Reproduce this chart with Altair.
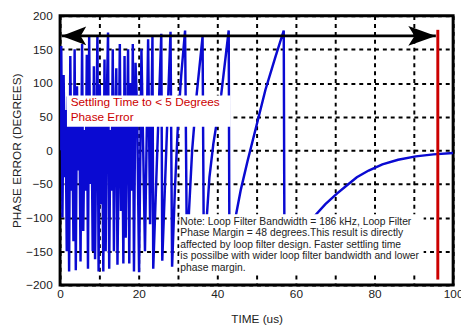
import altair as alt
import pandas as pd

# ---- blue trace: phase error vs time ----
time_us = [
    0.0, 0.3, 0.6, 0.9, 1.2, 1.4, 1.7, 2.0, 2.3, 2.6, 2.9, 3.1, 3.4, 3.7, 4.0, 4.3,
    4.6, 4.9, 5.2, 5.6, 5.9, 6.2, 6.5, 6.8, 7.1, 7.4, 7.7, 8.0, 8.3, 8.6, 8.9, 9.2,
    9.5, 9.8, 10.1, 10.4, 10.7, 11.0, 11.3, 11.6, 11.9, 12.2, 12.5, 12.8, 13.1, 13.4,
    13.7, 14.0, 14.3, 14.6, 14.9, 15.2, 15.5, 15.8, 16.1, 16.4, 16.7, 17.0, 17.3, 17.6,
    17.9, 18.2, 18.5, 18.8, 19.2, 19.6,
    20.1, 20.7, 21.6, 22.4, 22.9, 23.5, 23.7, 25.75, 26.0, 28.1, 28.5,
    29.2, 30.0, 30.8, 31.8, 32.3, 32.8, 33.6, 34.75, 36.25, 36.6, 37.2, 38.0, 39.0, 41.0,
    42.9, 43.1, 44.0, 44.75, 46.0, 47.7, 50.2, 52.25, 54.75, 56.9, 57.1, 59.0, 61.0, 63.0,
    65.0, 67.5, 70.5, 73.0, 75.5, 78.5, 82.0, 86.0, 90.5, 95.0, 100.0,
]
phase_deg = [
    0, 155, -100, 112, -40, 60, -150, 80, -180, 140, -60, 40, -135, 150, -178, 95,
    -30, 70, -165, 158, -120, 30, -60, 142, -176, 170, -50, 60, -150, 125, -162, 20,
    170, -180, 98, -80, 50, -180, 135, -150, 80, 175, -176, 30, -60, 150,
    -150, 40, 122, -170, -20, 158, -90, 60, -168, 140, -130, 20, 150, -168,
    100, -60, 158, -180, 130, 60,
    -181, 150, -150, 165, -110, 169, -176, 173, -164, 176, -173,
    -60, 40, 110, 178, -180, -90, 0, 83, 169, -180, -110, -40, 10, 83,
    178, -180, -128, -96, -58, -16, 42, 90, 138, 178, -180, -150, -130, -112,
    -96, -80, -64, -52, -40, -30, -21, -14, -9, -6, -4,
]

# ---- axes ----
x_ticks = list(range(0, 101, 10))
y_ticks = list(range(-200, 201, 50))
x_domain = [0, 100]
y_domain = [-200, 200]

# ---- annotations ----
arrow_y = [170]
arrow_x_start = [0.4]
arrow_x_end = [95.6]

settle_x = [96.1]
settle_y_top = [179]
settle_y_bottom = [-192]

settle_lines = ["Settling Time to < 5 Degrees", "Phase Error"]
settle_line_y = [65.6, 43.7]
settle_text_x = 2.7
settle_box = {"x": [1.75], "x2": [43.4], "y": [81.6], "y2": [35.0]}

note_lines = [
    "Note: Loop Filter Bandwidth = 186 kHz, Loop Filter",
    "Phase Margin = 48 degrees.This result is directly",
    "affected by loop filter design. Faster settling time",
    "is possilbe with wider loop filter bandwidth and lower",
    "phase margin.",
]
note_line_y = [-106, -122.5, -140.5, -157.5, -174.5]
note_text_x = 30.6
note_box = {"x": [30.35], "x2": [92.5], "y": [-95.0], "y2": [-185.0]}

FONT = "Liberation Sans"
BLUE = "#0a0ad2"
RED = "#cc0000"

x_axis = alt.Axis(
    values=x_ticks,
    labelExpr="datum.value % 20 === 0 ? datum.label : ''",
    grid=True, gridColor="black", gridDash=[4, 4], gridWidth=2, gridOpacity=1,
    ticks=False, domain=False, labelFlush=False, labelOverlap=False,
    labelFont=FONT, labelFontSize=12, labelColor="#222", labelPadding=4,
    title="TIME (us)", titleFont=FONT, titleFontSize=12, titleFontWeight="normal",
    titleColor="#222", titleY=34, titleBaseline="middle",
)
y_axis = alt.Axis(
    values=y_ticks,
    grid=True, gridColor="black", gridDash=[4, 4], gridWidth=2, gridOpacity=1,
    ticks=False, domain=False, labelFlush=False, labelOverlap=False,
    labelFont=FONT, labelFontSize=12, labelColor="#222", labelPadding=8,
    title="PHASE ERROR (DEGREES)", titleFont=FONT, titleFontSize=12,
    titleFontWeight="normal", titleColor="#222",
    titleX=-44, titleY=137, titleAlign="center", titleBaseline="middle",
)
xs = alt.Scale(domain=x_domain, nice=False, zero=False)
ys = alt.Scale(domain=y_domain, nice=False, zero=False)


def X(field):
    return alt.X(field, type="quantitative", scale=xs, axis=x_axis)


def Y(field):
    return alt.Y(field, type="quantitative", scale=ys, axis=y_axis)


trace = pd.DataFrame({"t": time_us, "p": phase_deg})
line = alt.Chart(trace).mark_line(color=BLUE, strokeWidth=2.5, clip=True).encode(
    x=X("t"), y=Y("p"), order="t:Q"
)

sb = pd.DataFrame(settle_box)
settle_rect = alt.Chart(sb).mark_rect(color="white").encode(
    x=X("x"), x2="x2", y=Y("y"), y2="y2"
)
st = pd.DataFrame({"t": [settle_text_x] * len(settle_lines), "p": settle_line_y, "txt": settle_lines})
settle_text = alt.Chart(st).mark_text(
    align="left", baseline="alphabetic", font=FONT, fontSize=12, color=RED
).encode(x=X("t"), y=Y("p"), text="txt:N")

nb = pd.DataFrame(note_box)
note_rect = alt.Chart(nb).mark_rect(color="white").encode(
    x=X("x"), x2="x2", y=Y("y"), y2="y2"
)
nt = pd.DataFrame({"t": [note_text_x] * len(note_lines), "p": note_line_y, "txt": note_lines})
note_text = alt.Chart(nt).mark_text(
    align="left", baseline="middle", font=FONT, fontSize=10.5, color="#222"
).encode(x=X("t"), y=Y("p"), text="txt:N")

ad = pd.DataFrame({"a": arrow_x_start, "b": arrow_x_end, "p": arrow_y})
arrow_shaft = alt.Chart(ad).mark_rule(color="black", strokeWidth=3).encode(
    x=X("a"), x2="b", y=Y("p")
)
left_head = alt.Chart(ad).mark_point(
    shape="M -1 0 L 1 -0.76 L 0.55 0 L 1 0.76 Z", size=625, filled=True,
    color="black", opacity=1, xOffset=12.5
).encode(x=X("a"), y=Y("p"))
right_head = alt.Chart(ad).mark_point(
    shape="M 1 0 L -1 -0.71 L -0.55 0 L -1 0.71 Z", size=784, filled=True,
    color="black", opacity=1, xOffset=-14
).encode(x=X("b"), y=Y("p"))

rd = pd.DataFrame({"t": settle_x, "top": settle_y_top, "bot": settle_y_bottom})
red_rule = alt.Chart(rd).mark_rule(color=RED, strokeWidth=3).encode(
    x=X("t"), y=Y("top"), y2="bot"
)

chart = alt.layer(
    line, settle_rect, settle_text, note_rect, note_text,
    arrow_shaft, left_head, right_head, red_rule,
).properties(
    width=400, height=274,
    autosize=alt.AutoSizeParams(type="none"),
    padding={"left": 53, "top": 5, "right": 8, "bottom": 41},
    background="white",
).configure_view(stroke="black", strokeWidth=3)

chart.save("out.html", embed_options={"renderer": "svg", "actions": False})
